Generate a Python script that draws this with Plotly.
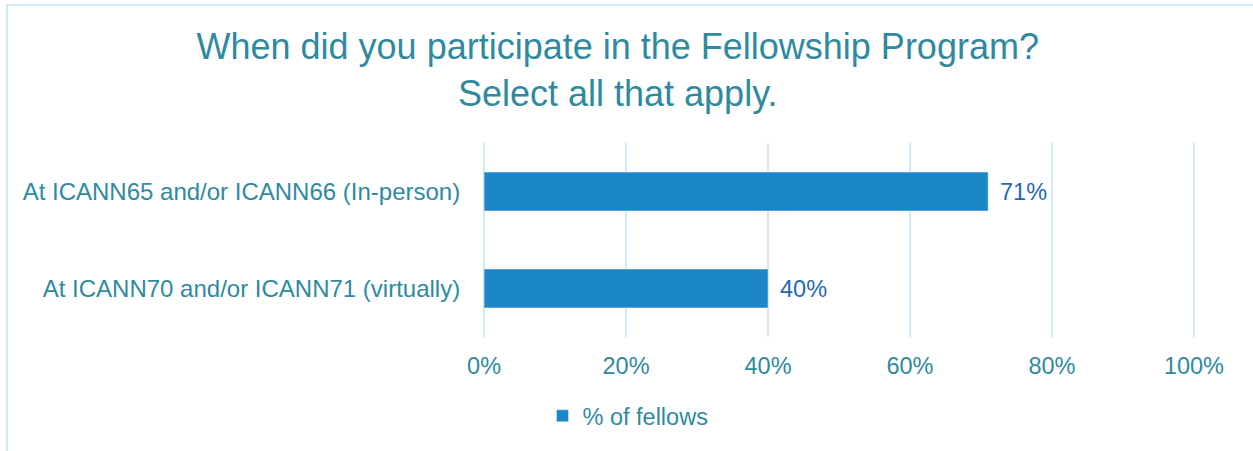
import plotly.graph_objects as go

categories = ["At ICANN65 and/or ICANN66 (In-person)", "At ICANN70 and/or ICANN71 (virtually)"]
values = [0.71, 0.40]
series_name = "% of fellows"
tick_vals = [0, 0.2, 0.4, 0.6, 0.8, 1.0]
tick_text = ["0%", "20%", "40%", "60%", "80%", "100%"]
title_lines = ["When did you participate in the Fellowship Program?", "Select all that apply."]

W, H = 1253, 451
L, R, T, B = 483, 58, 143, 114
pw, ph = W - L - R, H - T - B

def px_x(p):
    return (p - L) / pw

def px_y(p):
    return (H - B - p) / ph

TEAL = "#2F8A9F"
FONT = "Liberation Sans, Arial, sans-serif"

fig = go.Figure()
fig.add_trace(go.Bar(
    y=categories, x=values, orientation="h", name=series_name,
    marker=dict(color="#1B87C8"),
    cliponaxis=False, showlegend=True,
))

for cat, v in zip(categories, values):
    fig.add_annotation(x=v, y=cat, xref="x", yref="y", text=f"{v:.0%}",
                       showarrow=False, xanchor="left", xshift=10,
                       font=dict(color="#2468B4", size=23.5, family=FONT))

fig.update_layout(
    width=W, height=H,
    margin=dict(l=L, r=R, t=T, b=B, pad=0),
    paper_bgcolor="white", plot_bgcolor="white",
    font=dict(family=FONT, color=TEAL, size=23.5),
    title=dict(text="<br>".join(title_lines), x=0.493, xanchor="center",
               y=1 - 59 / H, yanchor="top", yref="container",
               font=dict(size=36, color=TEAL, family=FONT)),
    bargap=0.6,
    xaxis=dict(range=[-0.0015, 1.0015], tickvals=tick_vals, ticktext=tick_text,
               showgrid=True, gridcolor="#CFEAF2", gridwidth=2,
               zeroline=False, showline=False,
               ticks="outside", ticklen=8, tickcolor="rgba(0,0,0,0)",
               tickfont=dict(size=23.5, color=TEAL)),
    yaxis=dict(categoryorder="array", categoryarray=categories, autorange="reversed",
               showgrid=False, zeroline=False, showline=False,
               ticks="outside", ticklen=17, tickcolor="rgba(0,0,0,0)",
               tickfont=dict(size=24, color=TEAL)),
    legend=dict(orientation="h", x=px_x(628), xanchor="center", y=px_y(416), yanchor="middle",
                font=dict(size=23.5, color=TEAL), itemwidth=30),
    shapes=[dict(type="rect", xref="paper", yref="paper",
                 x0=px_x(7), x1=px_x(1265), y0=px_y(470), y1=px_y(5),
                 line=dict(color="#CFEAF2", width=2), fillcolor="rgba(0,0,0,0)", layer="below")],
)

fig.write_html("out.html", config={"displayModeBar": False},
               post_script="document.body.style.margin='0';")
